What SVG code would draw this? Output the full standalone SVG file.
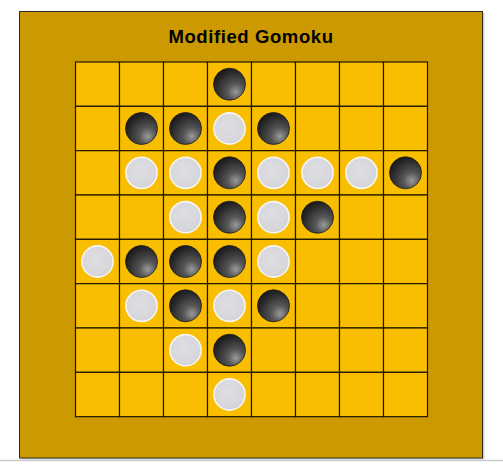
<svg xmlns="http://www.w3.org/2000/svg" xmlns:xlink="http://www.w3.org/1999/xlink" width="503" height="476" viewBox="0 0 503 476">
<defs>
<radialGradient id="gBlack" cx="0.68" cy="0.72" r="0.75" fx="0.7" fy="0.75">
<stop offset="0" stop-color="#9a9a9a"/>
<stop offset="0.35" stop-color="#555555"/>
<stop offset="0.8" stop-color="#2a2a2a"/>
<stop offset="1" stop-color="#1a1a1a"/>
</radialGradient>
<radialGradient id="gWhite" cx="0.45" cy="0.4" r="0.65">
<stop offset="0" stop-color="#dedee2"/>
<stop offset="0.8" stop-color="#d6d6db"/>
<stop offset="1" stop-color="#c4c4ca"/>
</radialGradient>
<circle id="black" r="16" fill="url(#gBlack)" stroke="#1c1c1c" stroke-width="0.8"/>
<circle id="white" r="15.6" fill="url(#gWhite)" stroke="#f6f6f6" stroke-width="1.6"/>
</defs>
<style>
.frame{fill:#cc9a00;stroke:#2e2a20;stroke-width:1}
.cell{fill:#f9be00;stroke:#1e1600;stroke-width:1.2}
.title{font-family:"Liberation Sans",Arial,sans-serif;font-weight:bold;font-size:18.5px;fill:#000;letter-spacing:0.6px}
</style>
<rect x="0" y="0" width="503" height="476" fill="#ffffff"/>
<line x1="0" y1="460.5" x2="503" y2="460.5" stroke="#c9c9c9" stroke-width="1.5"/>
<g id="frame">
<rect x="21" y="13" width="463.5" height="446.5" fill="#9a9a9a" opacity="0.45"/>
<rect class="frame" x="19.5" y="11.5" width="463" height="446.5"/>
<text class="title" x="251" y="42.5" text-anchor="middle">Modified Gomoku</text>
</g>
<g id="board">
<rect class="cell" x="75.5" y="62" width="44" height="44.33"/><rect class="cell" x="119.5" y="62" width="44" height="44.33"/><rect class="cell" x="163.5" y="62" width="44" height="44.33"/><rect class="cell" x="207.5" y="62" width="44" height="44.33"/><rect class="cell" x="251.5" y="62" width="44" height="44.33"/><rect class="cell" x="295.5" y="62" width="44" height="44.33"/><rect class="cell" x="339.5" y="62" width="44" height="44.33"/><rect class="cell" x="383.5" y="62" width="44" height="44.33"/>
<rect class="cell" x="75.5" y="106.33" width="44" height="44.33"/><rect class="cell" x="119.5" y="106.33" width="44" height="44.33"/><rect class="cell" x="163.5" y="106.33" width="44" height="44.33"/><rect class="cell" x="207.5" y="106.33" width="44" height="44.33"/><rect class="cell" x="251.5" y="106.33" width="44" height="44.33"/><rect class="cell" x="295.5" y="106.33" width="44" height="44.33"/><rect class="cell" x="339.5" y="106.33" width="44" height="44.33"/><rect class="cell" x="383.5" y="106.33" width="44" height="44.33"/>
<rect class="cell" x="75.5" y="150.67" width="44" height="44.33"/><rect class="cell" x="119.5" y="150.67" width="44" height="44.33"/><rect class="cell" x="163.5" y="150.67" width="44" height="44.33"/><rect class="cell" x="207.5" y="150.67" width="44" height="44.33"/><rect class="cell" x="251.5" y="150.67" width="44" height="44.33"/><rect class="cell" x="295.5" y="150.67" width="44" height="44.33"/><rect class="cell" x="339.5" y="150.67" width="44" height="44.33"/><rect class="cell" x="383.5" y="150.67" width="44" height="44.33"/>
<rect class="cell" x="75.5" y="195" width="44" height="44.33"/><rect class="cell" x="119.5" y="195" width="44" height="44.33"/><rect class="cell" x="163.5" y="195" width="44" height="44.33"/><rect class="cell" x="207.5" y="195" width="44" height="44.33"/><rect class="cell" x="251.5" y="195" width="44" height="44.33"/><rect class="cell" x="295.5" y="195" width="44" height="44.33"/><rect class="cell" x="339.5" y="195" width="44" height="44.33"/><rect class="cell" x="383.5" y="195" width="44" height="44.33"/>
<rect class="cell" x="75.5" y="239.33" width="44" height="44.33"/><rect class="cell" x="119.5" y="239.33" width="44" height="44.33"/><rect class="cell" x="163.5" y="239.33" width="44" height="44.33"/><rect class="cell" x="207.5" y="239.33" width="44" height="44.33"/><rect class="cell" x="251.5" y="239.33" width="44" height="44.33"/><rect class="cell" x="295.5" y="239.33" width="44" height="44.33"/><rect class="cell" x="339.5" y="239.33" width="44" height="44.33"/><rect class="cell" x="383.5" y="239.33" width="44" height="44.33"/>
<rect class="cell" x="75.5" y="283.67" width="44" height="44.33"/><rect class="cell" x="119.5" y="283.67" width="44" height="44.33"/><rect class="cell" x="163.5" y="283.67" width="44" height="44.33"/><rect class="cell" x="207.5" y="283.67" width="44" height="44.33"/><rect class="cell" x="251.5" y="283.67" width="44" height="44.33"/><rect class="cell" x="295.5" y="283.67" width="44" height="44.33"/><rect class="cell" x="339.5" y="283.67" width="44" height="44.33"/><rect class="cell" x="383.5" y="283.67" width="44" height="44.33"/>
<rect class="cell" x="75.5" y="328" width="44" height="44.33"/><rect class="cell" x="119.5" y="328" width="44" height="44.33"/><rect class="cell" x="163.5" y="328" width="44" height="44.33"/><rect class="cell" x="207.5" y="328" width="44" height="44.33"/><rect class="cell" x="251.5" y="328" width="44" height="44.33"/><rect class="cell" x="295.5" y="328" width="44" height="44.33"/><rect class="cell" x="339.5" y="328" width="44" height="44.33"/><rect class="cell" x="383.5" y="328" width="44" height="44.33"/>
<rect class="cell" x="75.5" y="372.33" width="44" height="44.33"/><rect class="cell" x="119.5" y="372.33" width="44" height="44.33"/><rect class="cell" x="163.5" y="372.33" width="44" height="44.33"/><rect class="cell" x="207.5" y="372.33" width="44" height="44.33"/><rect class="cell" x="251.5" y="372.33" width="44" height="44.33"/><rect class="cell" x="295.5" y="372.33" width="44" height="44.33"/><rect class="cell" x="339.5" y="372.33" width="44" height="44.33"/><rect class="cell" x="383.5" y="372.33" width="44" height="44.33"/>
</g>
<g id="stones">
<g id="s-r0c3"><use xlink:href="#black" x="229.5" y="84.2"/></g>
<g id="s-r1c1"><use xlink:href="#black" x="141.5" y="128.5"/></g>
<g id="s-r1c2"><use xlink:href="#black" x="185.5" y="128.5"/></g>
<g id="s-r1c3"><use xlink:href="#white" x="229.5" y="128.5"/></g>
<g id="s-r1c4"><use xlink:href="#black" x="273.5" y="128.5"/></g>
<g id="s-r2c1"><use xlink:href="#white" x="141.5" y="172.8"/></g>
<g id="s-r2c2"><use xlink:href="#white" x="185.5" y="172.8"/></g>
<g id="s-r2c3"><use xlink:href="#black" x="229.5" y="172.8"/></g>
<g id="s-r2c4"><use xlink:href="#white" x="273.5" y="172.8"/></g>
<g id="s-r2c5"><use xlink:href="#white" x="317.5" y="172.8"/></g>
<g id="s-r2c6"><use xlink:href="#white" x="361.5" y="172.8"/></g>
<g id="s-r2c7"><use xlink:href="#black" x="405.5" y="172.8"/></g>
<g id="s-r3c2"><use xlink:href="#white" x="185.5" y="217.2"/></g>
<g id="s-r3c3"><use xlink:href="#black" x="229.5" y="217.2"/></g>
<g id="s-r3c4"><use xlink:href="#white" x="273.5" y="217.2"/></g>
<g id="s-r3c5"><use xlink:href="#black" x="317.5" y="217.2"/></g>
<g id="s-r4c0"><use xlink:href="#white" x="97.5" y="261.5"/></g>
<g id="s-r4c1"><use xlink:href="#black" x="141.5" y="261.5"/></g>
<g id="s-r4c2"><use xlink:href="#black" x="185.5" y="261.5"/></g>
<g id="s-r4c3"><use xlink:href="#black" x="229.5" y="261.5"/></g>
<g id="s-r4c4"><use xlink:href="#white" x="273.5" y="261.5"/></g>
<g id="s-r5c1"><use xlink:href="#white" x="141.5" y="305.8"/></g>
<g id="s-r5c2"><use xlink:href="#black" x="185.5" y="305.8"/></g>
<g id="s-r5c3"><use xlink:href="#white" x="229.5" y="305.8"/></g>
<g id="s-r5c4"><use xlink:href="#black" x="273.5" y="305.8"/></g>
<g id="s-r6c2"><use xlink:href="#white" x="185.5" y="350.2"/></g>
<g id="s-r6c3"><use xlink:href="#black" x="229.5" y="350.2"/></g>
<g id="s-r7c3"><use xlink:href="#white" x="229.5" y="394.5"/></g>
</g>
</svg>
